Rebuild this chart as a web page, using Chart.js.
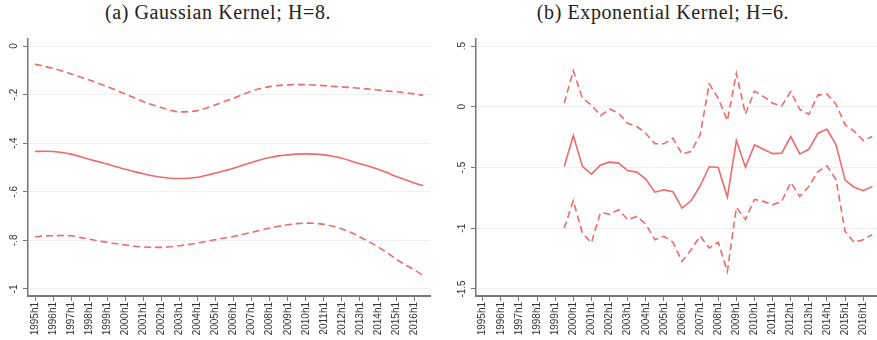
<!DOCTYPE html>
<html>
<head>
<meta charset="utf-8">
<script src="https://cdn.jsdelivr.net/npm/chart.js@4"></script>
<style>
  body { margin: 0; background: #fff; width: 877px; height: 340px; position: relative; overflow: hidden; }
  .titulo { position: absolute; top: 1px; font-family: "Liberation Serif", serif; font-size: 20px; letter-spacing: 0.6px; color: #222; text-align: center; white-space: nowrap; }
  canvas { position: absolute; top: 0; }
</style>
</head>
<body>
<div class="titulo" style="left:0; width:436px;">(a) Gaussian Kernel; H=8.</div>
<div class="titulo" style="left:440px; width:446px;">(b) Exponential Kernel; H=6.</div>
<canvas id="graficoA" width="440" height="340" style="left:0"></canvas>
<canvas id="graficoB" width="437" height="340" style="left:440px"></canvas>
<script>
// periodos semestrais
function semestres(anoIni, semIni, anoFim, semFim) {
  const lista = [];
  for (let a = anoIni; a <= anoFim; a++) {
    for (let s = 1; s <= 2; s++) {
      if (a === anoIni && s < semIni) continue;
      if (a === anoFim && s > semFim) continue;
      lista.push(a + "h" + s);
    }
  }
  return lista;
}

const periodosA = semestres(1995, 1, 2016, 2);
const periodosB = semestres(1999, 2, 2016, 2);
const anosTicks = [1995, 1996, 1997, 1998, 1999, 2000, 2001, 2002, 2003, 2004, 2005,
  2006, 2007, 2008, 2009, 2010, 2011, 2012, 2013, 2014, 2015, 2016];
const yTicksA = [0, -0.2, -0.4, -0.6, -0.8, -1];
const yTicksB = [0.5, 0, -0.5, -1, -1.5];

// (a) Gaussian kernel
const centroA = [-0.434, -0.433, -0.434, -0.438, -0.445, -0.455, -0.466, -0.476, -0.486, -0.497,
  -0.507, -0.517, -0.526, -0.534, -0.540, -0.544, -0.545, -0.544, -0.540, -0.532,
  -0.523, -0.513, -0.503, -0.491, -0.479, -0.468, -0.459, -0.452, -0.448, -0.445,
  -0.444, -0.445, -0.448, -0.454, -0.462, -0.473, -0.485, -0.495, -0.507, -0.521,
  -0.537, -0.550, -0.564, -0.575];
const superiorA = [-0.075, -0.083, -0.092, -0.103, -0.115, -0.127, -0.140, -0.153, -0.167, -0.182,
  -0.197, -0.213, -0.229, -0.242, -0.253, -0.264, -0.271, -0.270, -0.266, -0.255,
  -0.242, -0.228, -0.215, -0.200, -0.186, -0.175, -0.167, -0.162, -0.160, -0.159,
  -0.159, -0.161, -0.163, -0.166, -0.168, -0.171, -0.174, -0.177, -0.181, -0.185,
  -0.188, -0.192, -0.197, -0.203];
const inferiorA = [-0.785, -0.782, -0.781, -0.780, -0.781, -0.788, -0.795, -0.802, -0.808, -0.814,
  -0.819, -0.824, -0.827, -0.829, -0.829, -0.826, -0.822, -0.817, -0.811, -0.804,
  -0.797, -0.790, -0.784, -0.776, -0.767, -0.758, -0.749, -0.742, -0.736, -0.731,
  -0.729, -0.730, -0.734, -0.742, -0.753, -0.768, -0.786, -0.806, -0.827, -0.851,
  -0.877, -0.900, -0.921, -0.945];

// (b) Exponential kernel
const centroB = [-0.492, -0.237, -0.490, -0.555, -0.479, -0.456, -0.464, -0.525, -0.538, -0.596,
  -0.703, -0.684, -0.700, -0.834, -0.774, -0.652, -0.494, -0.500, -0.745, -0.278,
  -0.497, -0.314, -0.349, -0.386, -0.382, -0.245, -0.388, -0.350, -0.218, -0.186,
  -0.314, -0.604, -0.662, -0.691, -0.656];
const superiorB = [0.029, 0.297, 0.070, 0.015, -0.073, -0.018, -0.053, -0.136, -0.163, -0.218,
  -0.305, -0.305, -0.259, -0.388, -0.368, -0.232, 0.188, 0.070, -0.115, 0.275,
  -0.060, 0.128, 0.084, 0.029, 0.007, 0.125, -0.021, -0.062, 0.096, 0.105,
  0.020, -0.150, -0.200, -0.278, -0.245];
const inferiorB = [-0.999, -0.774, -1.040, -1.120, -0.870, -0.884, -0.848, -0.930, -0.903, -0.966,
  -1.095, -1.067, -1.116, -1.273, -1.177, -1.064, -1.163, -1.116, -1.355, -0.829,
  -0.928, -0.762, -0.779, -0.807, -0.779, -0.623, -0.738, -0.656, -0.533, -0.486,
  -0.601, -1.026, -1.116, -1.095, -1.053];

const vermelho = "#ef6a6a";
const cinza = "#777";

function paraX(p) {
  const partes = p.split("h");
  return Number(partes[0]) + (partes[1] === "2" ? 0.5 : 0);
}

function pontos(periodos, valores) {
  return periodos.map((p, i) => ({ x: paraX(p), y: valores[i] }));
}

function formatarY(v) {
  if (v === 0) return "0";
  return String(v).replace("0.", ".");
}

// rotulos do eixo y girados (estilo Stata)
const rotulosY = {
  id: "rotulosY",
  afterDraw(chart) {
    const s = chart.scales.y;
    const ctx = chart.ctx;
    ctx.save();
    ctx.fillStyle = "#333";
    ctx.font = "10px 'Liberation Sans'";
    ctx.textAlign = "center";
    ctx.textBaseline = "middle";
    s.ticks.forEach(t => {
      const y = s.getPixelForValue(t.value);
      ctx.save();
      ctx.translate(s.right - 14, y);
      ctx.rotate(-Math.PI / 2);
      ctx.fillText(formatarY(t.value), 0, 0);
      ctx.restore();
    });
    ctx.restore();
  }
};

function criarGrafico(id, periodos, centro, sup, inf, yTicks, cfg) {
  const linha = (dados, tracejado) => ({
    data: pontos(periodos, dados),
    borderColor: vermelho,
    borderWidth: 1.6,
    borderDash: tracejado ? [7, 4] : [],
    pointRadius: 0,
    tension: cfg.suave ? 0.4 : 0,
    cubicInterpolationMode: cfg.suave ? "monotone" : "default",
    fill: false
  });

  new Chart(document.getElementById(id), {
    type: "line",
    data: { datasets: [linha(sup, true), linha(centro, false), linha(inf, true)] },
    plugins: [rotulosY],
    options: {
      responsive: false,
      animation: false,
      devicePixelRatio: 1,
      layout: { padding: { top: 39, left: 0, right: cfg.dir, bottom: 0 } },
      plugins: { legend: { display: false }, tooltip: { enabled: false }, title: { display: false } },
      scales: {
        x: {
          type: "linear",
          min: cfg.xMin,
          max: cfg.xMax,
          afterBuildTicks: (s) => { s.ticks = anosTicks.map(v => ({ value: v })); },
          afterFit: (s) => { s.height = 44; },
          border: { color: cinza, width: 2 },
          grid: { drawOnChartArea: false, drawTicks: true, tickLength: 5, tickColor: cinza, lineWidth: 1 },
          ticks: {
            autoSkip: false,
            minRotation: 90,
            maxRotation: 90,
            padding: 1,
            color: "#333",
            font: { family: "Liberation Sans", size: 10 },
            callback: (v) => v + "h1"
          }
        },
        y: {
          min: cfg.yMin,
          max: cfg.yMax,
          afterBuildTicks: (s) => { s.ticks = yTicks.map(v => ({ value: v })); },
          afterFit: (s) => { s.width = cfg.larguraY; },
          border: { color: cinza, width: 1.5 },
          grid: { color: "#eef0f0", lineWidth: 1, drawTicks: true, tickLength: 5, tickColor: cinza },
          ticks: { display: false }
        }
      }
    }
  });
}

criarGrafico("graficoA", periodosA, centroA, superiorA, inferiorA, yTicksA,
  { suave: true, xMin: 1994.61, xMax: 2016.88, yMin: -1.029, yMax: 0.029, dir: 10, larguraY: 28 });
criarGrafico("graficoB", periodosB, centroB, superiorB, inferiorB, yTicksB,
  { suave: false, xMin: 1994.63, xMax: 2016.76, yMin: -1.558, yMax: 0.558, dir: 0, larguraY: 36 });
</script>
</body>
</html>
